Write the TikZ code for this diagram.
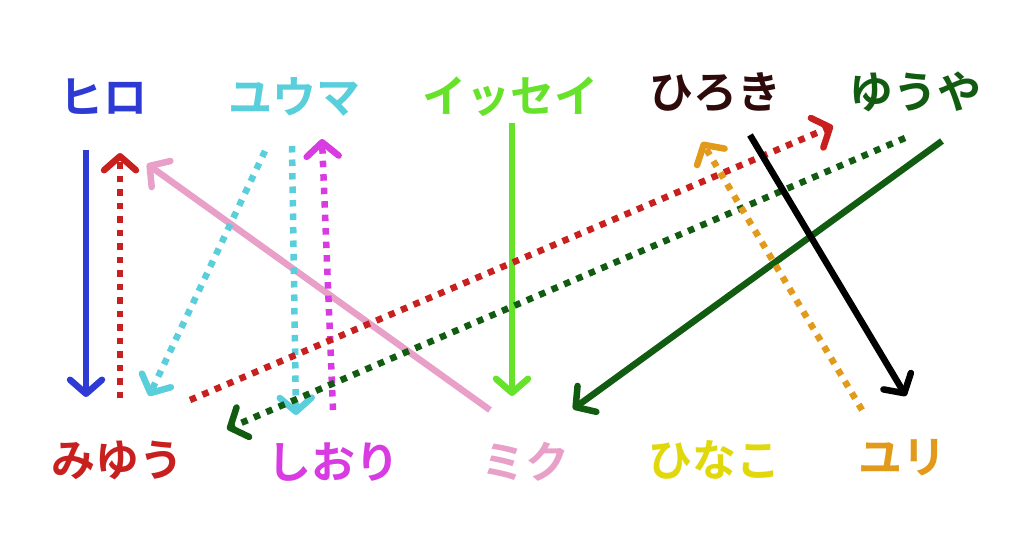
\documentclass[tikz,border=0pt]{standalone}
\usepackage{fontspec}
\newfontfamily\jp{Noto Sans CJK JP}[BoldFont={* Bold}]
\usetikzlibrary{arrows.meta}
\definecolor{cblue}{HTML}{2D3BD4}
\definecolor{ccyan}{HTML}{5ACFDC}
\definecolor{clgreen}{HTML}{66E22A}
\definecolor{cbrown}{HTML}{2E0A0A}
\definecolor{cdgreen}{HTML}{115C11}
\definecolor{cred}{HTML}{C8201F}
\definecolor{cmag}{HTML}{D93BE3}
\definecolor{cpink}{HTML}{E8A0C8}
\definecolor{cyellow}{HTML}{E0D80A}
\definecolor{corange}{HTML}{E29A1A}
\tikzset{
  jname/.style={font=\jp\bfseries\fontsize{44}{44}\selectfont, inner sep=0pt},
  link/.style={line width=6.5pt, -{Straight Barb[length=14pt,width=32pt,round]}},
  dotlink/.style={link, dash pattern=on 6.5pt off 7pt},
}
\begin{document}
\begin{tikzpicture}[x=1pt,y=-1pt]
\useasboundingbox (0,0) rectangle (1024,538);
\fill[white] (0,0) rectangle (1024,538);
% names
\node[jname, text=cblue] (hiro) at (103,97) {ヒロ};
\node[jname, text=ccyan] (yuma) at (294,97) {ユウマ};
\node[jname, text=clgreen] (issei) at (510,97) {イッセイ};
\node[jname, text=cbrown] (hiroki) at (715,92) {ひろき};
\node[jname, text=cdgreen] (yuya) at (915,92) {ゆうや};
\node[jname, text=cred] (miyu) at (117,460) {みゆう};
\node[jname, text=cmag] (shiori) at (333,462) {しおり};
\node[jname, text=cpink] (miku) at (525,462) {ミク};
\node[jname, text=cyellow] (hinako) at (714,460) {ひなこ};
\node[jname, text=corange] (yuri) at (902,458) {ユリ};
% end points
\coordinate (hiroA) at (86,150);   \coordinate (miyuA) at (86,397);
\coordinate (miyuB) at (120,398);  \coordinate (hiroB) at (120,153);
\coordinate (mikuC) at (490,410);  \coordinate (hiroC) at (147,164);
\coordinate (yumaD) at (265,151);  \coordinate (miyuD) at (149,396);
\coordinate (yumaE) at (292,146);  \coordinate (shioriE) at (296,415);
\coordinate (shioriF) at (333,410);\coordinate (yumaF) at (322,139);
\coordinate (isseiG) at (512,123); \coordinate (mikuG) at (512,396);
\coordinate (miyuH) at (190,400);  \coordinate (yuyaH) at (833,126);
\coordinate (yuyaI) at (905,138);  \coordinate (miyuI) at (227,429);
\coordinate (yuyaJ) at (942,141);  \coordinate (mikuJ) at (573,409);
\coordinate (hirokiK) at (750,135);\coordinate (yuriK) at (906,396);
\coordinate (yuriL) at (862,410);  \coordinate (hirokiL) at (702,142);
% connectors
\draw[link, cblue] (hiroA) -- (miyuA);
\draw[dotlink, cred] (miyuB) -- (hiroB);
\draw[link, cpink] (mikuC) -- (hiroC);
\draw[dotlink, ccyan] (yumaD) -- (miyuD);
\draw[dotlink, ccyan] (yumaE) -- (shioriE);
\draw[dotlink, cmag] (shioriF) -- (yumaF);
\draw[link, clgreen] (isseiG) -- (mikuG);
\draw[dotlink, cred] (miyuH) -- (yuyaH);
\draw[dotlink, cdgreen] (yuyaI) -- (miyuI);
\draw[link, cdgreen] (yuyaJ) -- (mikuJ);
\draw[link, black] (hirokiK) -- (yuriK);
\draw[dotlink, corange] (yuriL) -- (hirokiL);
\end{tikzpicture}
\end{document}
